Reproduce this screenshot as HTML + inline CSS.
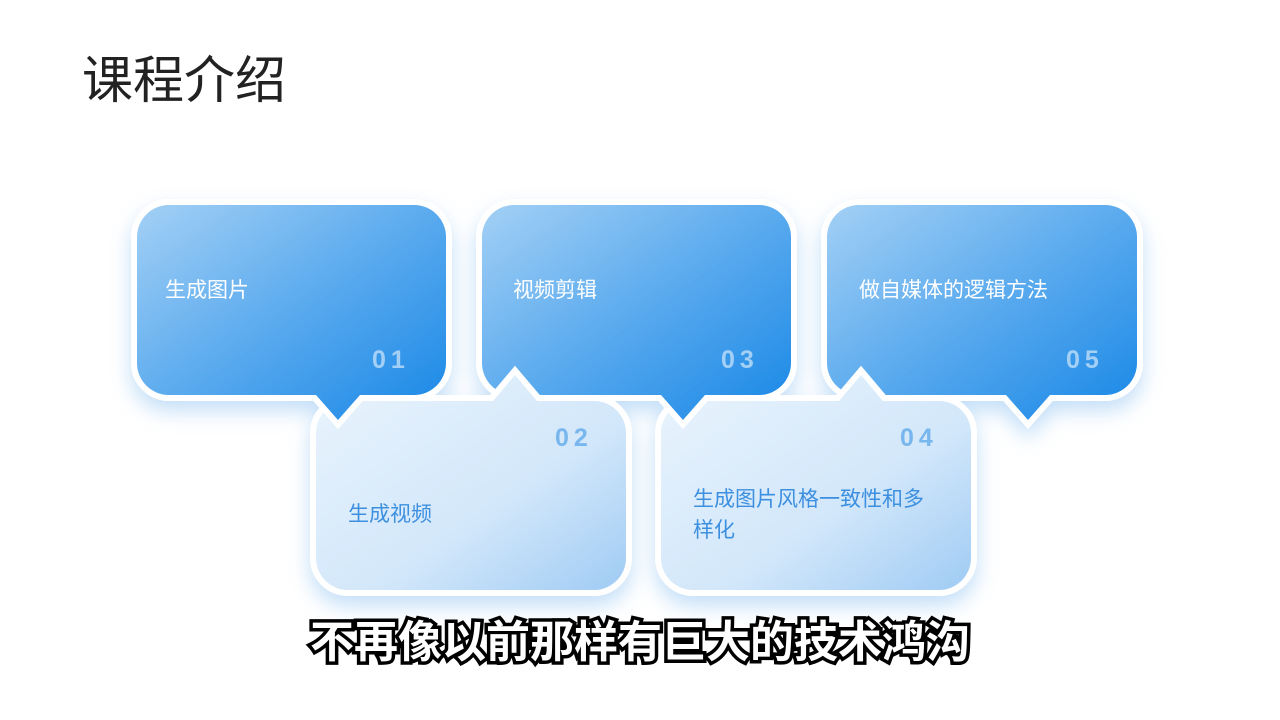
<!DOCTYPE html>
<html><head><meta charset="utf-8"><style>
html,body{margin:0;padding:0;background:#fff;}
body{width:1280px;height:720px;position:relative;overflow:hidden;font-family:"Liberation Sans","Noto Sans CJK SC",sans-serif;}
.t{position:absolute;white-space:nowrap;}
</style></head><body>
<svg width="1280" height="720" style="position:absolute;left:0;top:0">
<defs>
<linearGradient id="gt" x1="0" y1="0" x2="1" y2="1"><stop offset="0" stop-color="#a3d0f5"/><stop offset="0.5" stop-color="#5aaaee"/><stop offset="1" stop-color="#1787e6"/></linearGradient>
<linearGradient id="gb" x1="0" y1="0" x2="1" y2="1"><stop offset="0" stop-color="#eaf4fd"/><stop offset="0.6" stop-color="#d2e7fa"/><stop offset="1" stop-color="#9fcbf4"/></linearGradient>
<filter id="sh" x="-20%" y="-20%" width="140%" height="150%"><feDropShadow dx="0" dy="10" stdDeviation="10" flood-color="#7ab8ef" flood-opacity="0.45"/></filter>
</defs>
<g stroke="#fff" stroke-width="12" stroke-linejoin="miter" paint-order="stroke" filter="url(#sh)">
<path fill="url(#gt)" d="M859 205 H1105 A32 32 0 0 1 1137 237 V363 A32 32 0 0 1 1105 395 H1050 L1028 420 L1006 395 H859 A32 32 0 0 1 827 363 V237 A32 32 0 0 1 859 205 Z"/>
<path fill="url(#gb)" d="M693 401 H839 L861 375 L883 401 H939 A32 32 0 0 1 971 433 V558 A32 32 0 0 1 939 590 H693 A32 32 0 0 1 661 558 V433 A32 32 0 0 1 693 401 Z"/>
<path fill="url(#gt)" d="M514 205 H759 A32 32 0 0 1 791 237 V363 A32 32 0 0 1 759 395 H705 L683 420 L661 395 H514 A32 32 0 0 1 482 363 V237 A32 32 0 0 1 514 205 Z"/>
<path fill="url(#gb)" d="M348 401 H493 L515 375 L537 401 H594 A32 32 0 0 1 626 433 V558 A32 32 0 0 1 594 590 H348 A32 32 0 0 1 316 558 V433 A32 32 0 0 1 348 401 Z"/>
<path fill="url(#gt)" d="M169 205 H414 A32 32 0 0 1 446 237 V363 A32 32 0 0 1 414 395 H360 L338 420 L316 395 H169 A32 32 0 0 1 137 363 V237 A32 32 0 0 1 169 205 Z"/>
</g>
</svg>
<div class="t" style="left:82px;top:51px;font-size:51px;color:#222;line-height:60px;">课程介绍</div>

<div class="t" style="left:165px;top:277px;font-size:21px;color:#fff;line-height:28px;">生成图片</div>
<div class="t" style="left:513px;top:277px;font-size:21px;color:#fff;line-height:28px;">视频剪辑</div>
<div class="t" style="left:859px;top:277px;font-size:21px;color:#fff;line-height:28px;">做自媒体的逻辑方法</div>
<div class="t" style="left:372px;top:345px;font-size:25px;font-weight:bold;letter-spacing:5px;color:rgba(255,255,255,0.55);line-height:30px;">01</div>
<div class="t" style="left:721px;top:345px;font-size:25px;font-weight:bold;letter-spacing:5px;color:rgba(255,255,255,0.55);line-height:30px;">03</div>
<div class="t" style="left:1066px;top:345px;font-size:25px;font-weight:bold;letter-spacing:5px;color:rgba(255,255,255,0.55);line-height:30px;">05</div>

<div class="t" style="left:555px;top:423px;font-size:25px;font-weight:bold;letter-spacing:5px;color:#78b6ee;line-height:30px;">02</div>
<div class="t" style="left:900px;top:423px;font-size:25px;font-weight:bold;letter-spacing:5px;color:#78b6ee;line-height:30px;">04</div>
<div class="t" style="left:348px;top:501px;font-size:21px;color:#3d8fe0;line-height:28px;">生成视频</div>
<div class="t" style="left:693px;top:484px;font-size:21px;color:#3d8fe0;line-height:31px;white-space:normal;width:240px;">生成图片风格一致性和多样化</div>

<div class="t" style="left:0;width:1280px;text-align:center;top:616px;font-size:44px;font-weight:bold;color:#fff;line-height:54px;-webkit-text-stroke:7px #000;paint-order:stroke fill;">不再像以前那样有巨大的技术鸿沟</div>
</body></html>
